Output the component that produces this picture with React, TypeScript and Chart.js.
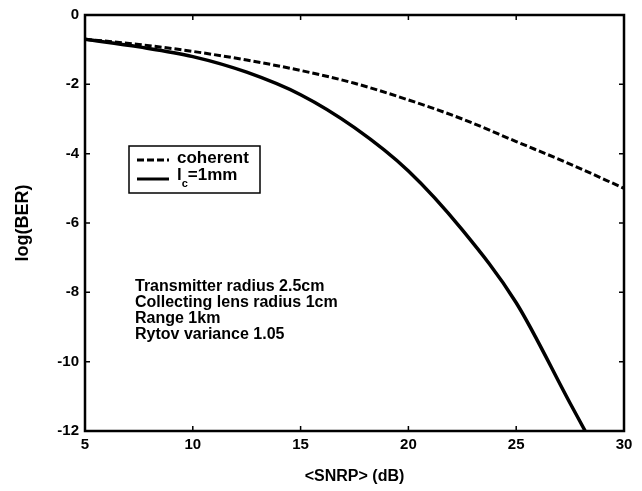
import React, { useEffect, useRef } from "react";
import { Chart, registerables } from "chart.js";

Chart.register(...registerables);

const snrCoherent = [5, 7.5, 10, 12.5, 15, 17.5, 20, 22.5, 25, 27.5, 30];
const berCoherent = [-0.7, -0.85, -1.05, -1.3, -1.6, -1.97, -2.45, -3.0, -3.65, -4.3, -5.0];

const snrLc = [5, 7.5, 10, 12.5, 15, 17.5, 20, 22.5, 25, 27.5, 28.2];
const berLc = [-0.7, -0.92, -1.2, -1.65, -2.3, -3.25, -4.5, -6.2, -8.3, -11.2, -12.0];

const xTicks = [5, 10, 15, 20, 25, 30];
const yTicks = [0, -2, -4, -6, -8, -10, -12];

const legendLabels = ["coherent", "l", "c", "=1mm"];
const noteLines = [
  "Transmitter radius 2.5cm",
  "Collecting lens radius 1cm",
  "Range 1km",
  "Rytov variance 1.05",
];

const FONT = "'Liberation Sans', Arial, sans-serif";

const decorPlugin = {
  id: "decor",
  afterDatasetsDraw(chart: any) {
    const { ctx, chartArea: a, scales } = chart;
    const xs = scales.x;
    const ys = scales.y;
    ctx.save();
    ctx.strokeStyle = "#000";
    ctx.lineWidth = 1.5;
    const tl = 5;
    xTicks.forEach((v) => {
      const px = xs.getPixelForValue(v);
      ctx.beginPath();
      ctx.moveTo(px, a.bottom);
      ctx.lineTo(px, a.bottom - tl);
      ctx.moveTo(px, a.top);
      ctx.lineTo(px, a.top + tl);
      ctx.stroke();
    });
    yTicks.forEach((v) => {
      const py = ys.getPixelForValue(v);
      ctx.beginPath();
      ctx.moveTo(a.left, py);
      ctx.lineTo(a.left + tl, py);
      ctx.moveTo(a.right, py);
      ctx.lineTo(a.right - tl, py);
      ctx.stroke();
    });
    ctx.lineWidth = 2.5;
    ctx.strokeRect(a.left, a.top, a.right - a.left, a.bottom - a.top);

    const lx = a.left + 44;
    const ly = a.top + 131;
    const lw = 131;
    const lh = 47;
    ctx.fillStyle = "#fff";
    ctx.fillRect(lx, ly, lw, lh);
    ctx.lineWidth = 1.5;
    ctx.strokeRect(lx, ly, lw, lh);
    const ds = chart.data.datasets;
    const row1 = ly + 14;
    const row2 = ly + 33;
    ctx.lineWidth = 3;
    ctx.setLineDash(ds[0].borderDash);
    ctx.beginPath();
    ctx.moveTo(lx + 8, row1);
    ctx.lineTo(lx + 40, row1);
    ctx.stroke();
    ctx.setLineDash([]);
    ctx.beginPath();
    ctx.moveTo(lx + 8, row2);
    ctx.lineTo(lx + 40, row2);
    ctx.stroke();
    ctx.fillStyle = "#000";
    ctx.textBaseline = "middle";
    ctx.textAlign = "left";
    ctx.font = "bold 17px " + FONT;
    ctx.fillText(legendLabels[0], lx + 48, row1 - 2);
    ctx.fillText(legendLabels[1], lx + 48, row2 - 4);
    const w1 = ctx.measureText(legendLabels[1]).width;
    ctx.font = "bold 11px " + FONT;
    ctx.fillText(legendLabels[2], lx + 48 + w1, row2 + 5);
    const w2 = ctx.measureText(legendLabels[2]).width;
    ctx.font = "bold 17px " + FONT;
    ctx.fillText(legendLabels[3], lx + 48 + w1 + w2, row2 - 4);

    ctx.font = "bold 16px " + FONT;
    noteLines.forEach((t, i) => {
      ctx.fillText(t, a.left + 50, a.top + 272 + i * 16);
    });
    ctx.restore();
  },
};

export default function App() {
  const ref = useRef<HTMLCanvasElement>(null);
  useEffect(() => {
    const canvas = ref.current!;
    const chart = new Chart(canvas, {
      type: "line",
      data: {
        datasets: [
          {
            label: "coherent",
            data: snrCoherent.map((x, i) => ({ x, y: berCoherent[i] })),
            borderColor: "#000",
            borderWidth: 3,
            borderDash: [7, 3],
            pointRadius: 0,
            cubicInterpolationMode: "monotone",
          },
          {
            label: "lc=1mm",
            data: snrLc.map((x, i) => ({ x, y: berLc[i] })),
            borderColor: "#000",
            borderWidth: 3.5,
            pointRadius: 0,
            cubicInterpolationMode: "monotone",
          },
        ],
      },
      options: {
        animation: false,
        responsive: false,
        layout: { padding: { top: 12, right: 18, left: 0, bottom: 0 } },
        plugins: { legend: { display: false }, tooltip: { enabled: false } },
        scales: {
          x: {
            type: "linear",
            min: 5,
            max: 30,
            afterBuildTicks: (s: any) => {
              s.ticks = xTicks.map((v) => ({ value: v }));
            },
            afterFit: (s: any) => {
              s.height = 60;
            },
            grid: { display: false, drawTicks: false },
            border: { display: false },
            ticks: {
              color: "#000",
              padding: 5,
              maxRotation: 0,
              font: { family: FONT, size: 15, weight: "bold" },
            },
            title: {
              display: true,
              text: "<SNRP> (dB)",
              color: "#000",
              padding: { top: 0, bottom: 5 },
              font: { family: FONT, size: 16, weight: "bold" },
            },
          },
          y: {
            type: "linear",
            min: -12,
            max: 0,
            afterBuildTicks: (s: any) => {
              s.ticks = yTicks.map((v) => ({ value: v }));
            },
            afterFit: (s: any) => {
              s.width = 85;
            },
            grid: { display: false, drawTicks: false },
            border: { display: false },
            ticks: {
              color: "#000",
              padding: 6,
              font: { family: FONT, size: 15, weight: "bold" },
            },
            title: {
              display: true,
              text: "log(BER)",
              color: "#000",
              padding: { top: 12, bottom: 0 },
              font: { family: FONT, size: 18, weight: "bold" },
            },
          },
        },
      } as any,
      plugins: [decorPlugin],
    });
    return () => chart.destroy();
  }, []);
  return (
    <div style={{ position: "fixed", left: 0, top: 0, width: 642, height: 491, background: "#fff" }}>
      <canvas ref={ref} width={642} height={491} style={{ width: 642, height: 491 }} />
    </div>
  );
}
